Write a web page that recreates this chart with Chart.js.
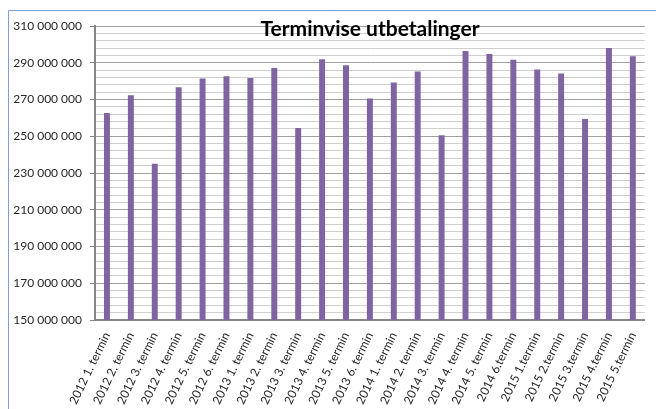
<!DOCTYPE html>
<html>
<head>
<meta charset="utf-8">
<script src="https://cdn.jsdelivr.net/npm/chart.js@4"></script>
<style>
html, body { margin: 0; padding: 0; background: #fff; }
#wrap { width: 656px; height: 409px; position: relative; }
</style>
</head>
<body>
<div id="wrap"><canvas id="chart" width="656" height="409"></canvas></div>
<script>
// Terminer og utbetalinger (lest av figuren)
var terms = [
    '2012 1. termin', '2012 2. termin', '2012 3. termin', '2012 4. termin',
    '2012 5. termin', '2012 6. termin', '2013 1. termin', '2013 2. termin',
    '2013 3. termin', '2013 4. termin', '2013 5. termin', '2013 6. termin',
    '2014 1. termin', '2014 2. termin', '2014 3. termin', '2014 4. termin',
    '2014 5. termin', '2014 6.termin', '2015 1.termin', '2015 2.termin',
    '2015 3.termin', '2015 4.termin', '2015 5.termin'
];
var payments = [
    262700000, 272300000, 235100000, 276600000, 281400000, 282600000,
    281700000, 287100000, 254500000, 291900000, 288600000, 270500000,
    279200000, 285200000, 250500000, 296400000, 294800000, 291700000,
    286300000, 284100000, 259400000, 298000000, 293500000
];
var yMin = 150000000, yMax = 310000000;
var majorStep = 20000000, minorStep = 4000000;
var chartTitle = 'Terminvise utbetalinger';

Chart.defaults.font.family = 'Lato';

function isMajor(v) {
    return Math.abs((v - yMin) % majorStep) < 1;
}

function formatNumber(v) {
    return String(Math.round(v)).replace(/\B(?=(\d{3})+(?!\d))/g, ' ');
}

// frame line and title drawn over the plot
var decorations = {
    id: 'decorations',
    beforeDraw: function(chart) {
        var c = chart.ctx;
        c.save();
        c.strokeStyle = '#7aa1d6';
        c.lineWidth = 1;
        c.beginPath();
        c.moveTo(8.5, chart.height);
        c.lineTo(8.5, 10.5);
        c.lineTo(chart.width, 10.5);
        c.stroke();
        c.restore();
    },
    afterDraw: function(chart) {
        var c = chart.ctx;
        c.save();
        c.font = 'bold 21px Lato';
        c.fillStyle = '#000';
        c.textAlign = 'center';
        c.textBaseline = 'alphabetic';
        c.fillText(chartTitle, 370, 36);
        c.restore();
    }
};

var ctx = document.getElementById('chart').getContext('2d');
var chart = new Chart(ctx, {
    type: 'bar',
    data: {
        labels: terms,
        datasets: [{
            data: payments,
            backgroundColor: '#8064a2',
            borderWidth: 0,
            barPercentage: 0.25,
            categoryPercentage: 1
        }]
    },
    options: {
        responsive: false,
        animation: false,
        layout: { padding: { top: 26, right: 10, left: 0, bottom: 0 } },
        plugins: {
            legend: { display: false },
            tooltip: { enabled: false }
        },
        scales: {
            x: {
                grid: { display: false, drawTicks: false },
                border: { display: true, color: '#868686', width: 2 },
                ticks: {
                    autoSkip: false,
                    minRotation: 64,
                    maxRotation: 64,
                    padding: 10,
                    color: '#262626',
                    font: { size: 12 }
                },
                afterFit: function(scale) { scale.height = 89; }
            },
            y: {
                min: yMin,
                max: yMax,
                grid: {
                    color: function(c) { return isMajor(c.tick.value) ? '#a0a0a0' : '#cfcfcf'; },
                    tickColor: function(c) { return isMajor(c.tick.value) ? '#868686' : 'rgba(0,0,0,0)'; },
                    tickLength: 5,
                    lineWidth: 1
                },
                border: { display: true, color: '#868686', width: 2 },
                ticks: {
                    stepSize: minorStep,
                    autoSkip: false,
                    padding: 8,
                    color: '#262626',
                    font: { size: 12 },
                    callback: function(v) { return isMajor(v) ? formatNumber(v) : ''; }
                },
                afterFit: function(scale) { scale.width = 95; }
            }
        }
    },
    plugins: [decorations]
});
</script>
</body>
</html>
